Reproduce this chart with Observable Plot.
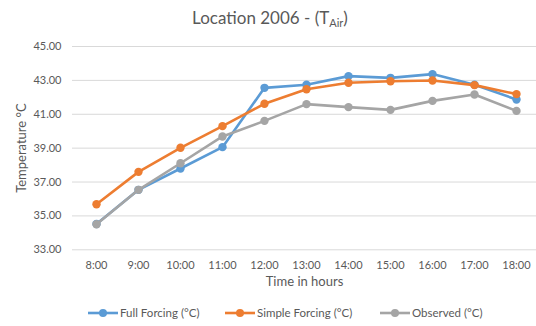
<!DOCTYPE html>
<html><head><meta charset="utf-8">
<script src="https://cdn.jsdelivr.net/npm/d3@7"></script>
<script src="https://cdn.jsdelivr.net/npm/@observablehq/plot@0.6"></script>
<style>
body{margin:0;background:#fff;font-family:Lato,sans-serif;color:#595959;}
#wrap{width:536px;height:326px;position:relative;overflow:hidden;}
#title{height:36px;text-align:center;font-size:17px;line-height:35px;padding-left:4px;}
#title sub{font-size:11px;vertical-align:-3px;line-height:0;}
#legend{position:relative;font-size:11.5px;height:28px;}
.item{position:absolute;top:8px;display:flex;align-items:center;}
.item svg{margin-right:2px;}
</style></head><body>
<div id="wrap">
<div id="title">Location 2006 - (T<sub>Air</sub>)</div>
<div id="chart"></div>
<div id="legend"></div>
</div>
<script>
const hours = ["8:00","9:00","10:00","11:00","12:00","13:00","14:00","15:00","16:00","17:00","18:00"];
const fullForcing = [34.52,36.54,37.80,39.06,42.56,42.74,43.25,43.15,43.37,42.74,41.87];
const simpleForcing = [35.69,37.60,39.02,40.30,41.62,42.48,42.86,42.95,42.99,42.72,42.19];
const observed = [34.51,36.54,38.11,39.69,40.61,41.60,41.42,41.26,41.79,42.17,41.20];
const yTicks = [33,35,37,39,41,43,45];
const seriesNames = ["Full Forcing (°C)","Simple Forcing (°C)","Observed (°C)"];
const colors = ["#5b9bd5","#ed7d31","#a5a5a5"];
const seriesValues = [fullForcing, simpleForcing, observed];
const legendLeft = [88,225,380];

const marks = [
  Plot.gridY(yTicks, {stroke:"#d9d9d9", strokeOpacity:1, strokeWidth:1}),
  Plot.axisY(yTicks, {tickSize:0, tickPadding:11, tickFormat:d=>d.toFixed(2), fontSize:11, fill:"#595959",
    label:"Temperature °C", labelAnchor:"center", labelArrow:"none", labelOffset:56}),
  Plot.axisX(hours, {tickSize:0, tickPadding:11, fontSize:11, fill:"#595959", label:"Time in hours", labelAnchor:"center", labelArrow:"none", labelOffset:36})
];
seriesValues.forEach((vals,i)=>{
  const d = hours.map((h,j)=>({h, v:vals[j]}));
  marks.push(Plot.line(d,{x:"h", y:"v", stroke:colors[i], strokeWidth:2.6}));
  marks.push(Plot.dot(d,{x:"h", y:"v", fill:colors[i], r:4.2}));
});

const chart = Plot.plot({
  width:536, height:262,
  marginLeft:72, marginRight:0, marginTop:10, marginBottom:48.7,
  style:{fontFamily:"Lato, sans-serif", color:"#595959", fontSize:"11px"},
  x:{type:"point", domain:hours, range:[93.3,519], padding:0},
  y:{domain:[33,45]},
  marks
});
chart.querySelectorAll('[aria-label="y-axis label"] text, [aria-label="x-axis label"] text').forEach(t=>t.setAttribute("font-size","13"));
document.getElementById("chart").appendChild(chart);

const legend = document.getElementById("legend");
seriesNames.forEach((n,i)=>{
  const it = document.createElement("div"); it.className="item";
  it.style.left = legendLeft[i]+"px";
  it.innerHTML = `<svg width="30" height="10"><line x1="0" x2="30" y1="5" y2="5" stroke="${colors[i]}" stroke-width="2.6"/><circle cx="15" cy="5" r="4" fill="${colors[i]}"/></svg><span>${n}</span>`;
  legend.appendChild(it);
});
</script>
</body></html>
